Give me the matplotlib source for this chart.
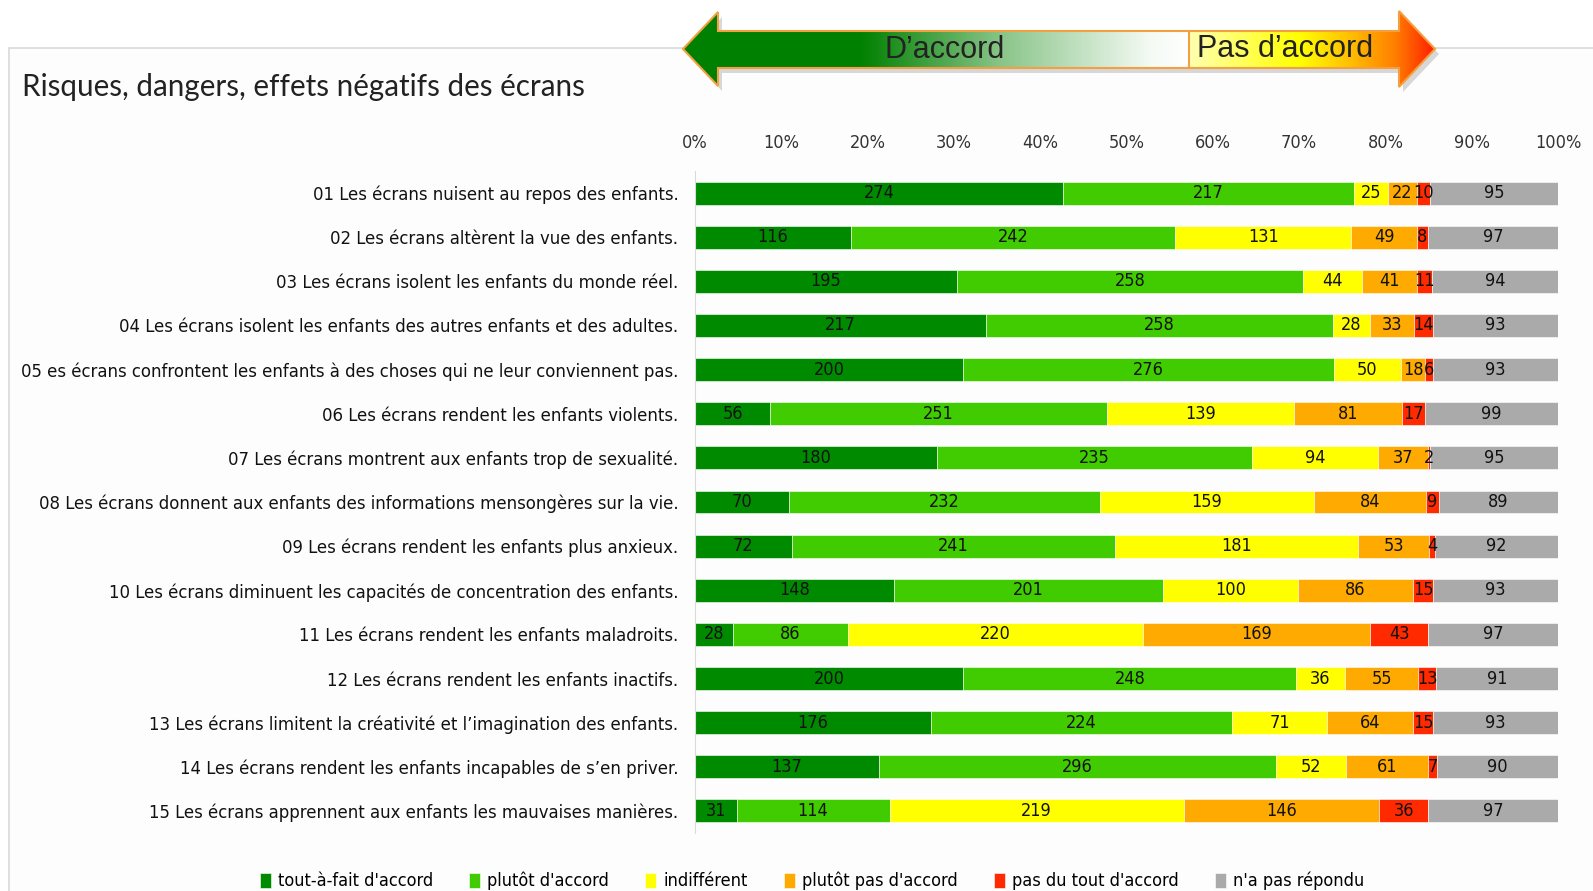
import numpy as np
import matplotlib.pyplot as plt
from matplotlib.patches import Polygon, Rectangle
from matplotlib.ticker import PercentFormatter

# data
questions = [
    "01 Les écrans nuisent au repos des enfants.",
    "02 Les écrans altèrent la vue des enfants.",
    "03 Les écrans isolent les enfants du monde réel.",
    "04 Les écrans isolent les enfants des autres enfants et des adultes.",
    "05 es écrans confrontent les enfants à des choses qui ne leur conviennent pas.",
    "06 Les écrans rendent les enfants violents.",
    "07 Les écrans montrent aux enfants trop de sexualité.",
    "08 Les écrans donnent aux enfants des informations mensongères sur la vie.",
    "09 Les écrans rendent les enfants plus anxieux.",
    "10 Les écrans diminuent les capacités de concentration des enfants.",
    "11 Les écrans rendent les enfants maladroits.",
    "12 Les écrans rendent les enfants inactifs.",
    "13 Les écrans limitent la créativité et l’imagination des enfants.",
    "14 Les écrans rendent les enfants incapables de s’en priver.",
    "15 Les écrans apprennent aux enfants les mauvaises manières.",
]
tout_a_fait = [274, 116, 195, 217, 200, 56, 180, 70, 72, 148, 28, 200, 176, 137, 31]
plutot = [217, 242, 258, 258, 276, 251, 235, 232, 241, 201, 86, 248, 224, 296, 114]
indifferent = [25, 131, 44, 28, 50, 139, 94, 159, 181, 100, 220, 36, 71, 52, 219]
plutot_pas = [22, 49, 41, 33, 18, 81, 37, 84, 53, 86, 169, 55, 64, 61, 146]
pas_du_tout = [10, 8, 11, 14, 6, 17, 2, 9, 4, 15, 43, 13, 15, 7, 36]
sans_reponse = [95, 97, 94, 93, 93, 99, 95, 89, 92, 93, 97, 91, 93, 90, 97]

series_names = ["tout-à-fait d'accord", "plutôt d'accord", "indifférent",
                "plutôt pas d'accord", "pas du tout d'accord", "n'a pas répondu"]
colors = ["#008A00", "#40CC00", "#FFFF00", "#FFAA00", "#FF2A00", "#AAAAAA"]

plt.rcParams['font.family'] = ['DejaVu Sans']
plt.rcParams['font.stretch'] = 'condensed'

W, H = 1593, 891
fig = plt.figure(figsize=(W / 100, H / 100), dpi=100)
fig.patch.set_facecolor('white')

# light frame around the chart area
bg = fig.add_axes([0, 0, 1, 1], zorder=0)
bg.set_xlim(0, W)
bg.set_ylim(H, 0)
bg.axis('off')
bg.add_patch(Rectangle((9, 48), W, H, facecolor='#FDFDFD', edgecolor='#D9D9D9', lw=1.2))

ax = fig.add_axes([695 / W, 1 - 833 / H, (1558 - 695) / W, (833 - 171) / H], zorder=1)
ax.patch.set_alpha(0)

data = np.array([tout_a_fait, plutot, indifferent, plutot_pas, pas_du_tout, sans_reponse], dtype=float)
totals = data.sum(axis=0)
pct = data / totals * 100
y = np.arange(len(questions))
left = np.zeros(len(questions))
handles = []
for i in range(len(series_names)):
    bars = ax.barh(y, pct[i], left=left, height=0.52, color=colors[i],
                   edgecolor='white', linewidth=0.4, label=series_names[i])
    handles.append(bars)
    for j in range(len(questions)):
        ax.text(left[j] + pct[i][j] / 2, y[j], str(int(data[i][j])),
                ha='center', va='center', fontsize=13, color='#111111')
    left += pct[i]

ax.set_xlim(0, 100)
ax.set_ylim(len(questions) - 0.5, -0.5)
ax.set_yticks(y)
ax.set_yticklabels(questions, fontsize=13.2, color='#111111')
ax.tick_params(axis='y', length=0, pad=12)
ax.xaxis.tick_top()
ax.set_xticks(np.arange(0, 101, 10))
ax.xaxis.set_major_formatter(PercentFormatter(decimals=0))
ax.tick_params(axis='x', length=0, labelsize=13, colors='#333333', pad=14)
for s in ['top', 'right', 'bottom']:
    ax.spines[s].set_visible(False)
ax.spines['left'].set_color('#D9D9D9')

fig.text(22 / W, 1 - 87 / H, "Risques, dangers, effets négatifs des écrans",
         fontsize=21.3, family=['Lato', 'DejaVu Sans'], stretch='normal',
         color='#222222', va='center')

leg = fig.legend(handles=handles, labels=series_names, loc='center',
                 bbox_to_anchor=(812 / W, 1 - 881 / H), ncol=6, frameon=False,
                 fontsize=13, handlelength=0.6, handleheight=0.9,
                 handletextpad=0.4, columnspacing=2.0)

# double arrow with gradient on top
ov = fig.add_axes([0, 0, 1, 1], zorder=3)
ov.set_xlim(0, W)
ov.set_ylim(H, 0)
ov.axis('off')
arrow_pts = [(683, 49), (718, 12), (718, 31), (1399, 31), (1399, 11),
             (1435, 49), (1399, 87), (1399, 68), (718, 68), (718, 86)]
shadow = Polygon([(x + 4, yy + 5) for x, yy in arrow_pts], closed=True,
                 facecolor='#000000', alpha=0.15, edgecolor='none', zorder=0.5)
ov.add_patch(shadow)

stops_x = [683, 860, 1000, 1150, 1188, 1190, 1300, 1350, 1395, 1435]
stops_c = ["#008000", "#008000", "#88C488", "#F4FAF4", "#FFFFFF",
           "#FFFFB0", "#FFFF00", "#FFC000", "#FF8000", "#FF2000"]
rgb = np.array([[int(c[k:k + 2], 16) / 255 for k in (1, 3, 5)] for c in stops_c])
xs = np.arange(683, 1436)
grad = np.stack([np.interp(xs, stops_x, rgb[:, k]) for k in range(3)], axis=-1)[None, :, :]
arrow = Polygon(arrow_pts, closed=True, facecolor='none', edgecolor='#F4A040', lw=1.5, zorder=2)
img = ov.imshow(grad, extent=[683, 1435, 87, 11], aspect='auto', zorder=1)
ov.add_patch(arrow)
img.set_clip_path(arrow)
ov.plot([1189, 1189], [31, 68], color='#F4A040', lw=1.5, zorder=2)
ov.set_xlim(0, W)
ov.set_ylim(H, 0)
ov.text(945, 50, "D’accord", fontsize=22, family=['Liberation Sans', 'DejaVu Sans'],
        stretch='normal', color='#222222', ha='center', va='center', zorder=3)
ov.text(1285, 49, "Pas d’accord", fontsize=22, family=['Liberation Sans', 'DejaVu Sans'],
        stretch='normal', color='#222222', ha='center', va='center', zorder=3)

fig.savefig('out.png', dpi=100)
